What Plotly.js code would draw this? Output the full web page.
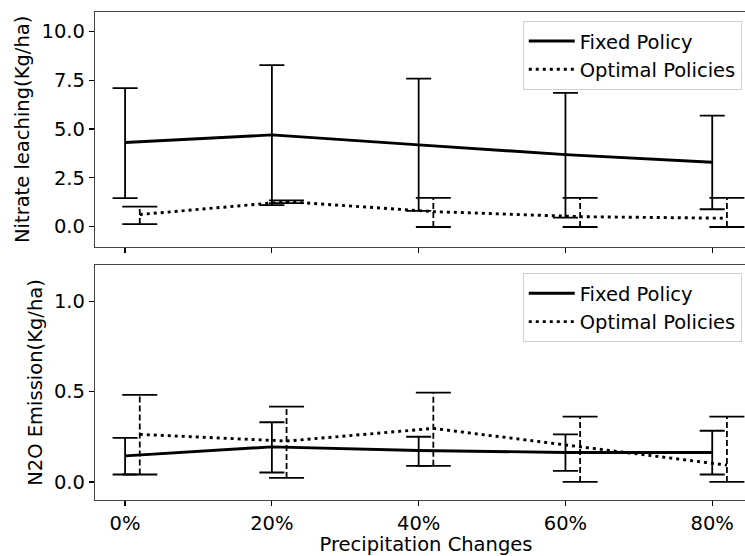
<!DOCTYPE html>
<html>
<head>
<meta charset="utf-8">
<script src="https://cdn.plot.ly/plotly-3.0.1.min.js"></script>
<style>
  html, body { margin: 0; padding: 0; overflow: hidden; background: #fff; }
  #chart { width: 757px; height: 556px; }
</style>
</head>
<body>
<div id="chart"></div>
<script>
// ---- data ----
const precipChanges = [0, 20, 40, 60, 80];
const precipLabels = ["0%", "20%", "40%", "60%", "80%"];

// Nitrate leaching (Kg/ha)
const nitrateFixedMean  = [4.31, 4.70, 4.19, 3.69, 3.30];
const nitrateFixedUpper = [7.10, 8.28, 7.59, 6.86, 5.69];
const nitrateFixedLower = [1.46, 1.10, 0.81, 0.46, 0.89];
const nitrateOptMean    = [0.62, 1.28, 0.77, 0.51, 0.43];
const nitrateOptUpper   = [1.03, 1.35, 1.47, 1.47, 1.47];
const nitrateOptLower   = [0.13, 1.20, -0.02, -0.02, -0.02];

// N2O emission (Kg/ha)
const n2oFixedMean  = [0.144, 0.194, 0.174, 0.163, 0.163];
const n2oFixedUpper = [0.244, 0.330, 0.250, 0.263, 0.283];
const n2oFixedLower = [0.041, 0.052, 0.089, 0.061, 0.041];
const n2oOptMean    = [0.263, 0.226, 0.296, 0.194, 0.093];
const n2oOptUpper   = [0.482, 0.417, 0.494, 0.361, 0.361];
const n2oOptLower   = [0.041, 0.022, 0.089, 0.000, 0.000];

const seriesNames = ["Fixed Policy", "Optimal Policies"];

// ---- styling / layout parameters ----
const OPT_SHIFT = 2;            // optimal series drawn slightly to the right
const FONT = {family: "DejaVu Sans, sans-serif", size: 19.5, color: "#000"};
const MAIN_W = 2.9, ERR_W = 1.8, CAP_HALF = 12.5;

const optX = precipChanges.map(p => p + OPT_SHIFT);

function fixedTraces(mean, up, lo, xa, ya, legend, showLeg) {
  return [{
    type: "scatter", mode: "lines", x: precipChanges, y: mean,
    name: seriesNames[0], xaxis: xa, yaxis: ya, legend: legend, showlegend: showLeg,
    line: {color: "#000", width: MAIN_W},
    error_y: {type: "data", symmetric: false,
      array: up.map((u, i) => u - mean[i]),
      arrayminus: lo.map((l, i) => mean[i] - l),
      color: "#000", thickness: ERR_W, width: CAP_HALF}
  }];
}

function optTraces(mean, up, lo, xa, ya, legend, showLeg) {
  const vx = [], vy = [], cx = [], cy = [];
  optX.forEach((x, i) => {
    vx.push(x, x, null); vy.push(lo[i], up[i], null);
    cx.push(x, x); cy.push(lo[i], up[i]);
  });
  return [
    {type: "scatter", mode: "lines", x: vx, y: vy, xaxis: xa, yaxis: ya,
     showlegend: false, hoverinfo: "skip",
     line: {color: "#000", width: ERR_W, dash: "6px,3px"}},
    {type: "scatter", mode: "markers", x: cx, y: cy, xaxis: xa, yaxis: ya,
     showlegend: false, hoverinfo: "skip",
     marker: {symbol: "line-ew", size: CAP_HALF * 2, color: "#000",
              line: {color: "#000", width: ERR_W}}},
    {type: "scatter", mode: "lines", x: optX, y: mean,
     name: seriesNames[1], xaxis: xa, yaxis: ya, legend: legend, showlegend: showLeg,
     line: {color: "#000", width: MAIN_W, dash: "3px,4px"}}
  ];
}

const data = [].concat(
  fixedTraces(nitrateFixedMean, nitrateFixedUpper, nitrateFixedLower, "x", "y", "legend", true),
  optTraces(nitrateOptMean, nitrateOptUpper, nitrateOptLower, "x", "y", "legend", true),
  fixedTraces(n2oFixedMean, n2oFixedUpper, n2oFixedLower, "x2", "y2", "legend2", true),
  optTraces(n2oOptMean, n2oOptUpper, n2oOptLower, "x2", "y2", "legend2", true)
);

const axisCommon = {
  showline: true, mirror: true, linecolor: "#444", linewidth: 1.2,
  ticks: "outside", ticklen: 5, tickwidth: 1.2, tickcolor: "#000",
  showgrid: false, zeroline: false, tickfont: FONT
};

const legendCommon = {
  xanchor: "right", yanchor: "top", x: 0.977,
  bgcolor: "rgba(255,255,255,0.8)", bordercolor: "#d0d0d0", borderwidth: 1,
  font: FONT, tracegroupgap: 0, itemwidth: 46
};

const layout = {
  width: 757, height: 556,
  margin: {l: 95, r: 0, t: 12, b: 56},
  paper_bgcolor: "#fff", plot_bgcolor: "#fff",
  font: FONT,
  xaxis: Object.assign({}, axisCommon, {
    domain: [0, 1], anchor: "y", range: [-4.1, 86.1],
    tickvals: precipChanges, ticktext: precipLabels, showticklabels: false
  }),
  yaxis: Object.assign({}, axisCommon, {
    domain: [0.519, 1], anchor: "x", range: [-1.03, 11.0],
    tickvals: [0, 2.5, 5, 7.5, 10], tickformat: ".1f",
    title: {text: "Nitrate leaching(Kg/ha)", font: FONT, standoff: 6}
  }),
  xaxis2: Object.assign({}, axisCommon, {
    domain: [0, 1], anchor: "y2", range: [-4.1, 86.1],
    tickvals: precipChanges, ticktext: precipLabels,
    title: {text: "Precipitation Changes", font: FONT, standoff: 0}
  }),
  yaxis2: Object.assign({}, axisCommon, {
    domain: [0, 0.4816], anchor: "x2", range: [-0.1, 1.2],
    tickvals: [0, 0.5, 1.0], tickformat: ".1f",
    title: {text: "N2O Emission(Kg/ha)", font: FONT, standoff: 6}
  }),
  legend: Object.assign({}, legendCommon, {y: 0.982}),
  legend2: Object.assign({}, legendCommon, {y: 0.465}),
  showlegend: true
};

Plotly.newPlot("chart", data, layout, {staticPlot: true, displayModeBar: false});
</script>
</body>
</html>
